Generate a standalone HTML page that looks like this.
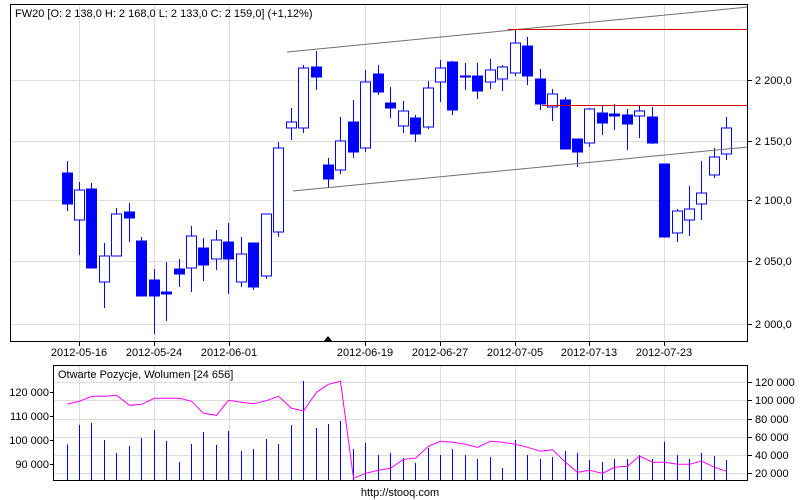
<!DOCTYPE html>
<html><head><style>
body{margin:0;background:#fff;}
svg{display:block;font-family:"Liberation Sans",sans-serif;font-size:11px;}
</style></head><body>
<svg id="s" width="800" height="500" xmlns="http://www.w3.org/2000/svg">
<rect width="800" height="500" fill="#fff"/>
<g id="grid" stroke="#dcdcdc" stroke-width="1"></g>
<g id="c"></g>
<line x1="287" y1="52" x2="748" y2="7" stroke="#707070"/>
<line x1="293" y1="191" x2="748" y2="147" stroke="#707070"/>
<line x1="508" y1="29.5" x2="748" y2="29.5" stroke="#d00000"/>
<line x1="542" y1="105.5" x2="748" y2="105.5" stroke="#d00000"/>
<rect x="10.5" y="4.5" width="737" height="337" fill="none" stroke="#000"/>
<rect x="53.5" y="365.5" width="694" height="115" fill="none" stroke="#000"/>
<polygon points="324,341 328,336 332,341" fill="#000"/>
<text x="15" y="17">FW20 [O: 2 138,0  H: 2 168,0  L: 2 133,0  C: 2 159,0] (+1,12%)</text>
<g text-anchor="start">
<text x="755" y="84">2 200,0</text><text x="755" y="145">2 150,0</text><text x="755" y="204">2 100,0</text><text x="755" y="265">2 050,0</text><text x="755" y="328">2 000,0</text>
</g>
<g text-anchor="middle">
<text x="79" y="356">2012-05-16</text><text x="154" y="356">2012-05-24</text><text x="229" y="356">2012-06-01</text><text x="365" y="356">2012-06-19</text><text x="440" y="356">2012-06-27</text><text x="515" y="356">2012-07-05</text><text x="589" y="356">2012-07-13</text><text x="664" y="356">2012-07-23</text>
<text x="400" y="496">http://stooq.com</text>
</g>
<text x="58" y="378">Otwarte Pozycje, Wolumen [24 656]</text>
<g text-anchor="end">
<text x="49" y="396">120 000</text><text x="49" y="420">110 000</text><text x="49" y="444">100 000</text><text x="49" y="468">90 000</text>
</g>
<g text-anchor="start">
<text x="755" y="386">120 000</text><text x="755" y="404">100 000</text><text x="755" y="423">80 000</text><text x="755" y="441">60 000</text><text x="755" y="459">40 000</text><text x="755" y="477">20 000</text>
</g>
</svg>
<script>
var NS="http://www.w3.org/2000/svg";
function el(p,t,a){var e=document.createElementNS(NS,t);for(var k in a)e.setAttribute(k,a[k]);document.getElementById(p).appendChild(e);return e;}
var g='grid';
[80,141,200,261,324].forEach(function(y){el(g,'line',{x1:11,x2:748,y1:y+.5,y2:y+.5});});
[79,154,229,365,440,515,589,664].forEach(function(x){el(g,'line',{x1:x+.5,x2:x+.5,y1:5,y2:341});el(g,'line',{x1:x+.5,x2:x+.5,y1:366,y2:480});
 el(g,'line',{x1:x+.5,x2:x+.5,y1:342,y2:346,stroke:'#000'});});
[382,400,419,437,455,473].forEach(function(y){el(g,'line',{x1:54,x2:748,y1:y+.5,y2:y+.5});el(g,'line',{x1:748,x2:752,y1:y+.5,y2:y+.5,stroke:'#000'});});
[392,416,440,464].forEach(function(y){el(g,'line',{x1:50,x2:53,y1:y+.5,y2:y+.5,stroke:'#000'});});
[80,141,200,261,324].forEach(function(y){el(g,'line',{x1:748,x2:752,y1:y+.5,y2:y+.5,stroke:'#000'});});
// f=filled, h=hollow: [type, bodyTop, bodyBot, wickTop, wickBot]
var C=[['f',173,204,161,211],['h',190,220,182,255],['f',189,268,183,268],['h',256,282,243,308],['h',214,256,208,256],['f',212,218,203,242],['f',241,296,237,296],['f',280,296,269,334],['f',292,294,262,321],['f',269,274,259,287],['h',236,268,226,292],['f',248,265,238,281],['h',240,259,230,270],['f',242,259,223,294],['h',254,282,237,287],['f',243,287,243,290],['h',214,276,214,279],['h',148,232,142,237],['h',122,128,108,140],['h',68,128,65,133],['f',67,77,51,90],['f',165,179,158,188],['h',141,170,117,174],['f',122,152,100,158],['h',82,148,70,152],['f',74,92,65,95],['f',103,108,87,118],['h',111,126,101,133],['f',118,134,115,142],['h',88,127,81,129],['h',68,82,60,102],['f',62,110,61,115],['f',76,77,63,90],['f',76,91,63,99],['h',70,82,59,89],['h',67,79,65,91],['h',43,73,29,76],['f',46,76,37,85],['f',79,104,69,110],['h',94,107,89,121],['f',100,149,97,149],['f',139,152,139,167],['h',109,143,108,147],['f',113,123,106,135],['f',114,116,104,130],['f',115,124,109,150],['h',111,116,106,138],['f',117,143,107,144],['f',164,237,164,237],['h',211,233,209,242],['h',209,220,186,236],['h',193,204,161,220],['h',157,175,148,178],['h',128,154,117,160]];
var V=[253,195,189,240,279,258,234,210,243,306,252,216,255,213,273,267,237,252,195,63,204,192,183,267,249,285,279,294,309,264,285,267,285,297,291,324,240,285,297,291,273,279,300,306,297,297,285,297,245,285,297,279,288,300];
var O=[132,124,109,109,106,136,133,115,115,115,124,160,166,121,127,131,122,109,145,153,97,73,64,355,340,331,325,298,295,259,244,247,253,262,244,247,253,262,274,269,307,337,331,340,322,319,288,307,307,313,313,303,322,334];
var pts=[];
C.forEach(function(c,i){var x=Math.round(66.5+12.45*i)+.5;
 el('c','line',{x1:x,x2:x,y1:c[3],y2:c[4],stroke:'#0000ff','stroke-width':1});
 var h=Math.max(c[2]-c[1],1);
 if(c[0]=='f')el('c','rect',{x:x-5,y:c[1],width:10,height:h,fill:'#0000ff',stroke:'#0000ff'});
 else el('c','rect',{x:x-5,y:c[1],width:10,height:h,fill:'#fff',stroke:'#0000ff'});
 var vy=360+V[i]/3;el('c','line',{x1:x,x2:x,y1:vy,y2:480,stroke:'#0000ff'});
 pts.push(x+','+(360+O[i]/3).toFixed(1));});
el('c','polyline',{points:pts.join(' '),fill:'none',stroke:'#ff00ff','stroke-width':1});
</script>
</body></html>
